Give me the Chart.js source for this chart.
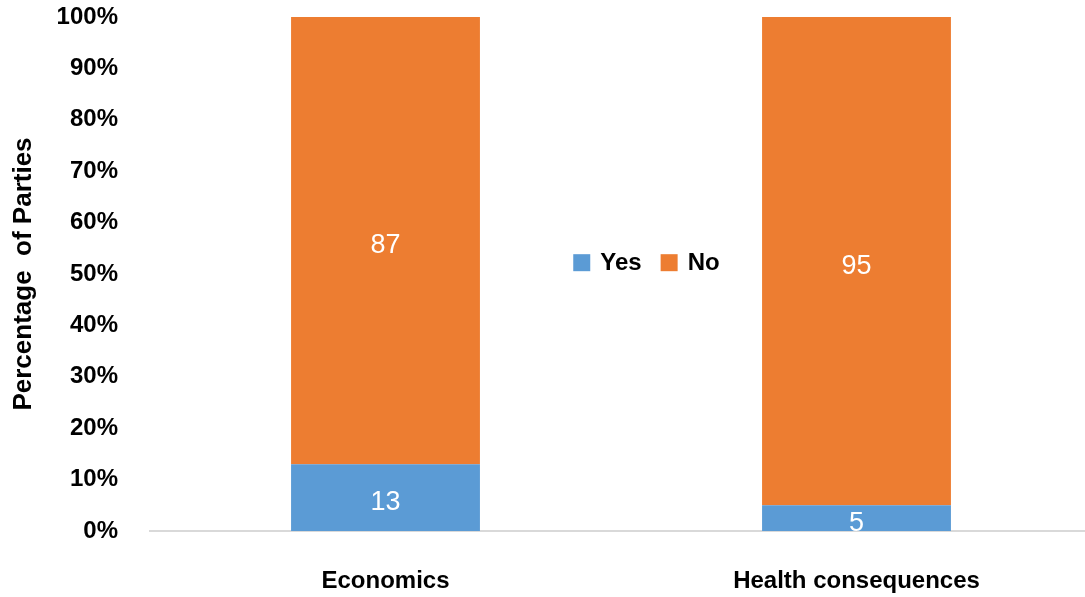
<!DOCTYPE html>
<html>
<head>
<meta charset="utf-8">
<title>Percentage of Parties</title>
<script src="https://cdn.jsdelivr.net/npm/chart.js@4/dist/chart.umd.min.js"></script>
<style>
  html, body { margin: 0; padding: 0; background: #fff; overflow: hidden; }
  canvas { display: block; }
</style>
</head>
<body>
<canvas id="chart" width="1092" height="597"></canvas>
<script>
const categories = ['Economics', 'Health consequences'];
const yesValues = [13, 5];
const noValues = [87, 95];
const yTicks = [0, 10, 20, 30, 40, 50, 60, 70, 80, 90, 100];

const FONT = '"Liberation Sans", Arial, sans-serif';
const BLUE = '#5B9BD5';
const ORANGE = '#ED7D31';

// white numbers centred in each stacked segment
const segmentLabels = {
    id: 'segmentLabels',
    afterDatasetsDraw(chart) {
        const ctx = chart.ctx;
        ctx.save();
        ctx.fillStyle = '#fff';
        ctx.font = '27px ' + FONT;
        ctx.textAlign = 'center';
        ctx.textBaseline = 'middle';
        chart.data.datasets.forEach((ds, i) => {
            chart.getDatasetMeta(i).data.forEach((bar, j) => {
                const y = (bar.y + bar.base) / 2 + 5;
                ctx.fillText(String(ds.data[j]), bar.x, y);
            });
        });
        ctx.restore();
    }
};

// legend drawn inside the plot, between the two bars
const middleLegend = {
    id: 'middleLegend',
    afterDraw(chart, args, opts) {
        const ctx = chart.ctx;
        const area = chart.chartArea;
        const box = 17, gap = 10, between = 19;
        ctx.save();
        ctx.font = 'bold 24px ' + FONT;
        ctx.textBaseline = 'middle';
        const items = chart.data.datasets.map(ds => ({
            text: ds.label,
            color: ds.backgroundColor,
            w: ctx.measureText(ds.label).width
        }));
        const total = items.reduce((s, it) => s + box + gap + it.w, 0) + between * (items.length - 1);
        let x = area.left + area.width * opts.cx - total / 2;
        const y = area.top + area.height * opts.cy;
        items.forEach(it => {
            ctx.fillStyle = it.color;
            ctx.fillRect(x, y - box / 2, box, box);
            ctx.fillStyle = '#000';
            ctx.fillText(it.text, x + box + gap, y + 1);
            x += box + gap + it.w + between;
        });
        ctx.restore();
    }
};

new Chart(document.getElementById('chart'), {
    type: 'bar',
    data: {
        labels: categories,
        datasets: [
            { label: 'Yes', data: yesValues, backgroundColor: BLUE },
            { label: 'No', data: noValues, backgroundColor: ORANGE }
        ]
    },
    options: {
        responsive: false,
        animation: false,
        layout: { padding: 0 },
        datasets: {
            bar: { categoryPercentage: 1, barPercentage: 0.401 }
        },
        plugins: {
            legend: { display: false },
            tooltip: { enabled: false },
            middleLegend: { cx: 0.527, cy: 0.478 }
        },
        scales: {
            x: {
                stacked: true,
                grid: { display: false, drawTicks: false },
                border: { display: true, color: '#d9d9d9', width: 2 },
                ticks: {
                    color: '#000',
                    padding: 36,
                    font: { family: FONT, size: 24, weight: 'bold' }
                },
                afterFit(scale) { scale.height = 66; }
            },
            y: {
                stacked: true,
                min: 0,
                max: 100,
                grid: { display: false, drawTicks: false },
                border: { display: false },
                afterBuildTicks(scale) {
                    scale.ticks = yTicks.map(v => ({ value: v }));
                },
                ticks: {
                    color: '#000',
                    padding: 32,
                    font: { family: FONT, size: 24, weight: 'bold' },
                    callback: v => v + '%'
                },
                title: {
                    display: true,
                    text: 'Percentage  of Parties',
                    color: '#000',
                    padding: { top: 8, bottom: 0 },
                    font: { family: FONT, size: 26, weight: 'bold' }
                },
                afterFit(scale) {
                    scale.width = 150;
                    // tick padding would otherwise push the plot top down
                    scale.paddingTop = 17;
                    scale.paddingBottom = 0;
                }
            }
        }
    },
    plugins: [segmentLabels, middleLegend]
});
</script>
</body>
</html>
